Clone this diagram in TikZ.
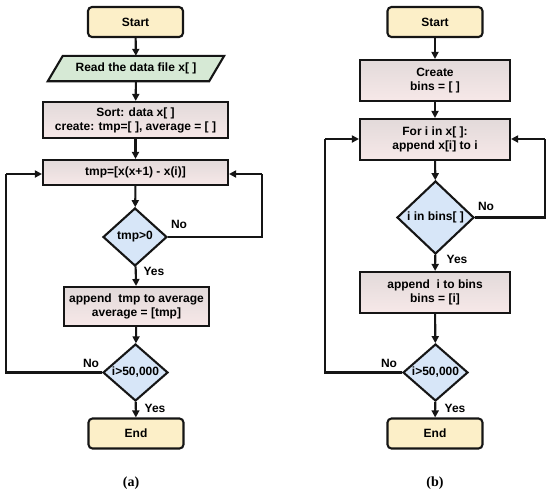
\documentclass[tikz,border=0pt]{standalone}
\usepackage{fontspec}
\setmainfont{Liberation Sans}
\newfontfamily\capfont{Liberation Serif}
\usetikzlibrary{shapes.geometric,arrows.meta,backgrounds}
\definecolor{lnc}{HTML}{151515}
\definecolor{termfill}{HTML}{FCEFC8}
\definecolor{iofill}{HTML}{D6E9D5}
\definecolor{decfill}{HTML}{D7E6F8}
\definecolor{boxtop}{HTML}{E2DADA}
\definecolor{boxbot}{HTML}{F7E8E8}
\tikzset{
  x=1pt, y=-1pt,
  txt/.style={font=\bfseries\fontsize{12}{14}\selectfont},
  base/.style={draw=lnc, line width=2.1pt, txt, align=center, inner sep=0pt},
  term/.style={base, fill=termfill, rounded corners=4pt, minimum width=95pt, minimum height=30pt},
  iotext/.style={txt, align=center, inner sep=0pt, minimum width=176pt, minimum height=25pt},
  iofillst/.style={draw=lnc, line width=2.1pt, fill=iofill, line join=miter},
  procbox/.style={base, top color=boxtop, bottom color=boxbot, minimum height=36pt},
  dec/.style={base, fill=decfill, diamond, aspect=1.1},
  lbl/.style={txt, inner sep=0pt},
  arr/.style={draw=lnc, line width=2.1pt, -{Triangle[length=7pt,width=7pt]}},
  ln/.style={draw=lnc, line width=2.1pt},
}
\begin{document}
\begin{tikzpicture}
\useasboundingbox (0,0) rectangle (550,496);
% ---------- panel (a)
\node[term] (aS) at (135.5,22) {Start};
\node[iotext] (aR) at (136,68.5) {Read the data file x[ ]};
\begin{scope}[on background layer]
\path[iofillst] (aR.south west) -- ([xshift=15pt]aR.north west) -- (aR.north east) -- ([xshift=-15pt]aR.south east) -- cycle;
\end{scope}
\node[procbox, minimum width=185pt, minimum height=36pt] (aSort) at (135.5,120) {Sort: data x[ ]\\create: tmp=[ ], average = [ ]};
\node[procbox, minimum width=185pt, minimum height=25pt] (aT) at (135.5,172.5) {tmp=[x(x+1) - x(i)]};
\node[dec, minimum width=64pt, minimum height=58pt] (aD1) at (135,237) {};
\node[lbl] at (135,237) {tmp>0};
\node[procbox, minimum width=145pt, minimum height=39pt] (aA) at (136.5,306.5) {append\ \ tmp to average\\average = [tmp]};
\node[dec, minimum width=65pt, minimum height=57pt] (aD2) at (135.5,372.5) {};
\node[lbl] at (135.5,372.5) {i>50,000};
\node[term] (aE) at (136,433.5) {End};
\coordinate (aL1) at (6,372.5);
\coordinate (aL2) at (6,174);
\coordinate (aR1) at (262,237);
\coordinate (aR2) at (262,174);
\draw[arr] (aS) -- (aR);
\draw[arr] (aR) -- (aSort);
\draw[arr] (aSort) -- (aT);
\draw[arr] (aT) -- (aD1);
\draw[arr] (aD1) -- (aA);
\draw[arr] (aA) -- (aD2);
\draw[arr] (aD2) -- (aE);
\draw[ln] (aD2.west) -- (aL1) -- (aL2);
\draw[arr] (aL2) -- (aT.west |- aL2);
\draw[ln] (aD1.east) -- (aR1) -- (aR2);
\draw[arr] (aR2) -- (aT.east |- aR2);
\node[lbl] at (179,224) {No};
\node[lbl] at (154,271) {Yes};
\node[lbl] at (91,363) {No};
\node[lbl] at (155,408) {Yes};
\node[font=\capfont\bfseries\fontsize{14}{16}\selectfont] (capa) at (131,483) {(a)};
% ---------- panel (b)
\node[term] (bS) at (435,22) {Start};
\node[procbox, minimum width=150pt, minimum height=41pt] (bC) at (435,80.5) {Create\\bins = [ ]};
\node[procbox, minimum width=150pt, minimum height=41pt] (bF) at (435,139.5) {For i in x[ ]:\\append x[i] to i};
\node[dec, minimum width=77pt, minimum height=73pt] (bD1) at (435.5,217.5) {};
\node[lbl] at (435.5,217.5) {i in bins[ ]};
\node[procbox, minimum width=150pt, minimum height=41pt] (bA) at (435,292.5) {append\ \ i to bins\\bins = [i]};
\node[dec, minimum width=65pt, minimum height=57pt] (bD2) at (435.5,372.5) {};
\node[lbl] at (435.5,372.5) {i>50,000};
\node[term] (bE) at (435,433.5) {End};
\coordinate (bL1) at (325,372.5);
\coordinate (bL2) at (325,139);
\coordinate (bR1) at (545,217.5);
\coordinate (bR2) at (545,139);
\draw[arr] (bS) -- (bC);
\draw[arr] (bC) -- (bF);
\draw[arr] (bF) -- (bD1);
\draw[arr] (bD1) -- (bA);
\draw[arr] (bA) -- (bD2);
\draw[arr] (bD2) -- (bE);
\draw[ln] (bD2.west) -- (bL1) -- (bL2);
\draw[arr] (bL2) -- (bF.west |- bL2);
\draw[ln] (bD1.east) -- (bR1) -- (bR2);
\draw[arr] (bR2) -- (bF.east |- bR2);
\node[lbl] at (486,206) {No};
\node[lbl] at (457,259) {Yes};
\node[lbl] at (389,363) {No};
\node[lbl] at (455,408) {Yes};
\node[font=\capfont\bfseries\fontsize{14}{16}\selectfont] (capb) at (435,483) {(b)};
\end{tikzpicture}
\end{document}
